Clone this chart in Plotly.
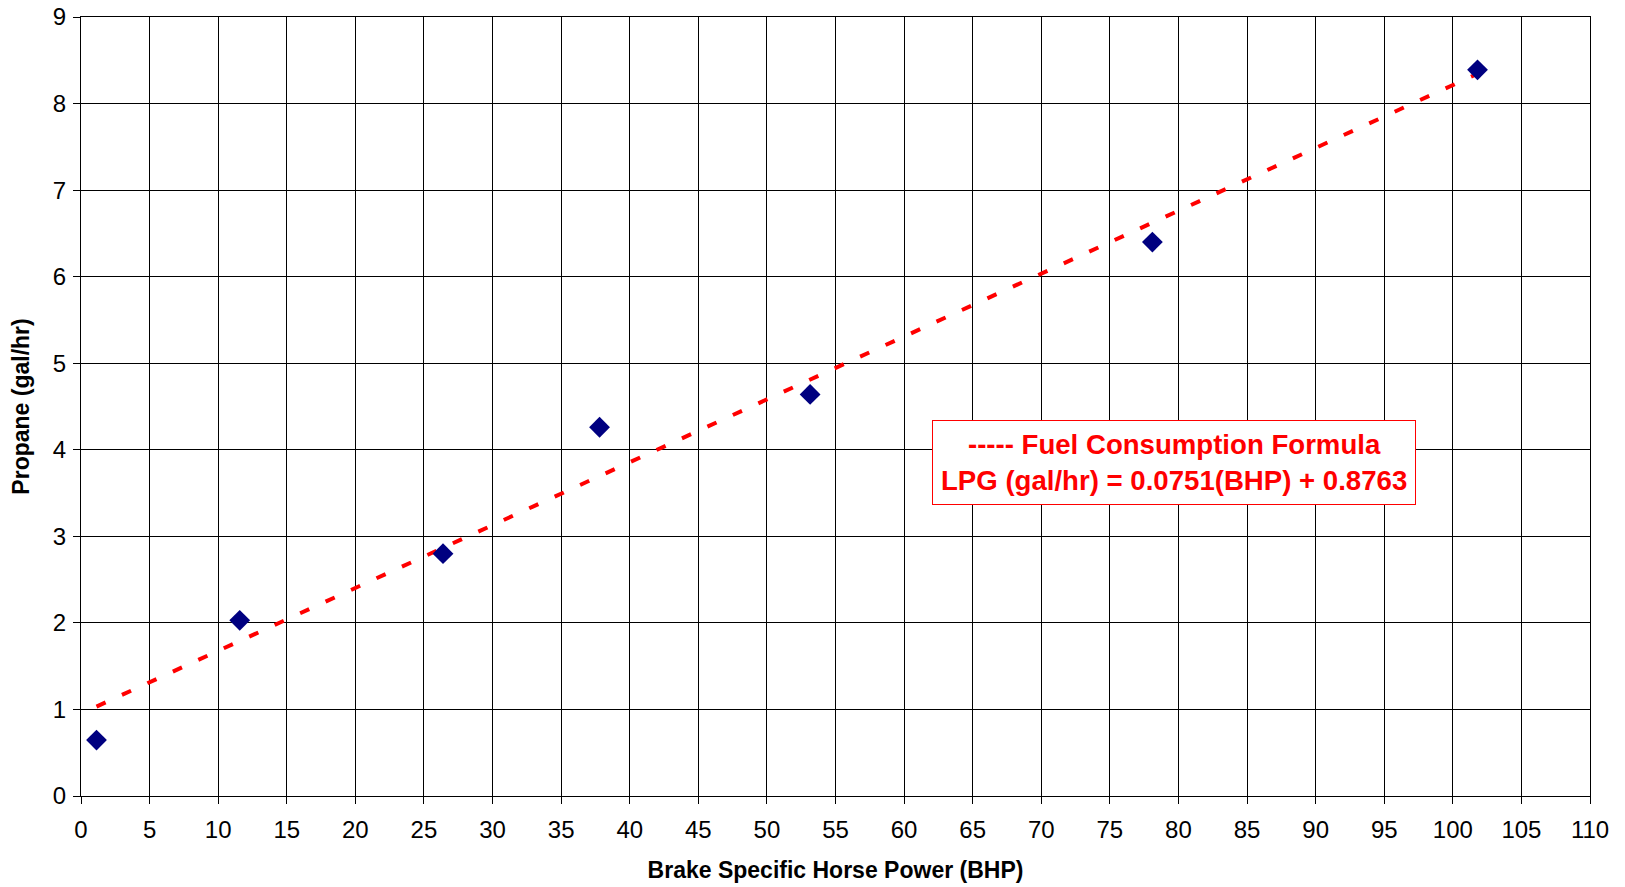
import numpy as np
import plotly.graph_objects as go

bhp = [1.13, 11.57, 26.39, 37.8, 53.15, 78.1, 101.8]
propane = [0.646, 2.03, 2.80, 4.26, 4.64, 6.40, 8.39]
x_ticks = list(range(0, 111, 5))
y_ticks = list(range(0, 10))
formula_lines = ["----- Fuel Consumption Formula", "LPG (gal/hr) = 0.0751(BHP) + 0.8763"]

slope, intercept = np.polyfit(bhp, propane, 1)
tx = np.array([min(bhp), max(bhp)])
ty = slope * tx + intercept

fig = go.Figure()
fig.add_trace(go.Scatter(x=tx, y=ty, mode="lines",
                         line=dict(color="#ff0000", width=4, dash="10px,18px"),
                         showlegend=False, hoverinfo="skip"))
fig.add_trace(go.Scatter(x=bhp, y=propane, mode="markers",
                         marker=dict(symbol="diamond", size=16, color="#000080",
                                     line=dict(width=0)),
                         showlegend=False))

fig.add_annotation(x=79.7, y=3.85, xref="x", yref="y",
                   text="<br>".join(formula_lines), showarrow=False,
                   align="center",
                   font=dict(family="Liberation Sans, Arial", size=27.6, color="#ff0000", weight="bold"),
                   bordercolor="#ff0000", borderwidth=1, borderpad=8, bgcolor="white")

axis_common = dict(showgrid=True, gridcolor="#000000", gridwidth=1,
                   showline=True, linecolor="#000000", linewidth=1,
                   ticks="outside", ticklen=7, tickcolor="#000000",
                   zeroline=False, mirror=True, automargin=False,
                   ticklabeloverflow="allow",
                   tickfont=dict(family="Liberation Sans, Arial", size=24, color="#000000"))

fig.update_xaxes(range=[0, 110], tickvals=x_ticks, ticklabelstandoff=5,
                 title=dict(text="<b>Brake Specific Horse Power (BHP)</b>",
                            font=dict(family="Liberation Sans, Arial", size=23, color="#000000"),
                            standoff=20),
                 **axis_common)
fig.update_yaxes(range=[0, 9], tickvals=y_ticks, ticklabelstandoff=2,
                 title=dict(text="<b>Propane (gal/hr)</b>",
                            font=dict(family="Liberation Sans, Arial", size=23, color="#000000"),
                            standoff=17),
                 **axis_common)

fig.update_layout(width=1617, height=879,
                  margin=dict(l=73, r=35, t=9, b=91),
                  paper_bgcolor="white", plot_bgcolor="white",
                  font=dict(family="Liberation Sans, Arial"))

fig.write_html("out.html")
